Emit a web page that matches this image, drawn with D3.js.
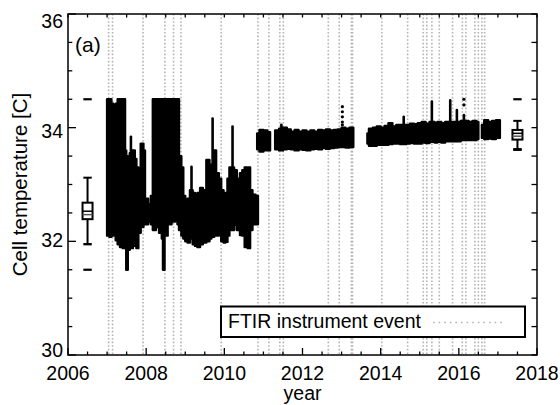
<!DOCTYPE html>
<html>
<head>
<meta charset="utf-8">
<script src="https://cdn.jsdelivr.net/npm/d3@7"></script>
<style>
  body { margin: 0; background: #fff; }
  svg { display: block; }
  text { font-family: "Liberation Sans", Arial, Helvetica, sans-serif; fill: #000; }
</style>
</head>
<body>
<svg id="chart" width="560" height="405"></svg>
<script>
// ---- Cell temperature record (envelope of the measurements, decimal year) ----
// null entries separate the continuous measurement periods
const obsYear = [
  2007.00, 2007.06, 2007.11, 2007.16, 2007.22, 2007.27, 2007.33, 2007.40, 2007.46, 2007.49,
  2007.53, 2007.58, 2007.63, 2007.66, 2007.71, 2007.75, 2007.80, 2007.86, 2007.93, 2007.97,
  2008.05, 2008.12, 2008.17, 2008.25, 2008.33, 2008.40, 2008.43, 2008.47, 2008.55, 2008.65,
  2008.74, 2008.80, 2008.84, 2008.90, 2008.95, 2009.00, 2009.06, 2009.12, 2009.19, 2009.25,
  2009.31, 2009.38, 2009.45, 2009.54, 2009.62, 2009.67, 2009.74, 2009.79, 2009.86, 2009.92,
  2009.98, 2010.03, 2010.08, 2010.13, 2010.25, 2010.32, 2010.40, 2010.46, 2010.52, 2010.60,
  2010.66, 2010.72, 2010.80, 2010.86, null,
  2010.84, 2010.90, 2011.00, 2011.10, 2011.17, null,
  2011.30, 2011.40, 2011.50, 2011.60, 2011.70, 2011.80, 2011.90, 2012.00, 2012.10, 2012.20,
  2012.30, 2012.40, 2012.50, 2012.60, 2012.70, 2012.80, 2012.90, 2013.00, 2013.10, 2013.20,
  2013.30, null,
  2013.66, 2013.70, 2013.80, 2013.90, 2014.00, 2014.10, 2014.20, 2014.30, 2014.40, 2014.50,
  2014.65, 2014.75, 2014.85, 2014.95, 2015.05, 2015.15, 2015.25, 2015.38, 2015.45, 2015.55,
  2015.65, 2015.85, 2016.05, 2016.25, 2016.35, 2016.45, 2016.50, null,
  2016.59, 2016.65, 2016.75, 2016.85, 2016.95, 2017.05
];
const obsHigh = [
  34.50, 34.50, 34.42, 34.38, 34.42, 34.50, 34.50, 34.50, 33.60, 33.50,
  33.45, 33.55, 33.60, 33.60, 33.45, 33.30, 33.25, 33.72, 33.60, 32.75,
  32.65, 32.80, 34.50, 34.50, 34.50, 34.50, 34.50, 34.50, 34.50, 34.50,
  34.50, 34.50, 33.50, 33.30, 32.80, 32.70, 32.75, 32.90, 32.85, 32.80,
  32.85, 32.94, 32.90, 33.43, 33.35, 33.30, 33.60, 33.20, 33.10, 32.90,
  32.80, 32.85, 33.10, 33.30, 33.25, 33.10, 33.20, 33.25, 33.30, 33.30,
  32.90, 32.82, 32.80, 32.75, null,
  33.90, 33.96, 33.95, 33.92, 33.88, null,
  33.95, 33.98, 34.00, 33.97, 33.93, 33.96, 33.93, 33.95, 33.93, 33.95,
  33.93, 33.96, 33.95, 33.97, 33.95, 33.96, 33.97, 34.00, 33.98, 34.00,
  34.00, null,
  33.90, 33.98, 34.00, 34.02, 34.00, 34.03, 34.08, 34.02, 34.05, 34.05,
  34.05, 34.07, 34.06, 34.08, 34.10, 34.07, 34.10, 34.08, 34.10, 34.08,
  34.10, 34.10, 34.12, 34.10, 34.12, 34.10, 34.08, null,
  34.05, 34.13, 34.10, 34.12, 34.13, 34.10
];
const obsLow = [
  32.10, 32.08, 32.10, 32.12, 32.02, 31.95, 31.90, 31.88, 32.05, 31.50,
  31.85, 31.90, 31.88, 31.95, 31.92, 31.88, 32.15, 32.25, 32.30, 32.30,
  32.35, 32.30, 32.20, 32.25, 32.15, 32.05, 31.50, 32.10, 32.30, 32.35,
  32.40, 32.30, 32.20, 32.10, 32.05, 32.00, 31.98, 32.05, 31.95, 31.92,
  31.90, 31.95, 31.98, 32.00, 32.05, 32.08, 32.10, 32.10, 32.15, 32.00,
  31.98, 31.99, 32.10, 32.20, 32.29, 32.20, 32.11, 32.10, 31.90, 31.88,
  32.20, 32.30, 32.30, 32.30, null,
  33.62, 33.58, 33.60, 33.60, 33.62, null,
  33.62, 33.60, 33.62, 33.63, 33.62, 33.60, 33.62, 33.61, 33.60, 33.62,
  33.63, 33.62, 33.64, 33.63, 33.64, 33.65, 33.66, 33.66, 33.65, 33.66,
  33.68, null,
  33.72, 33.68, 33.68, 33.70, 33.70, 33.70, 33.71, 33.72, 33.72, 33.71,
  33.72, 33.73, 33.72, 33.72, 33.74, 33.73, 33.75, 33.74, 33.75, 33.74,
  33.76, 33.76, 33.78, 33.78, 33.78, 33.80, 33.80, null,
  33.82, 33.80, 33.81, 33.80, 33.82, 33.85
];

// narrow excursions above the envelope
const spikeYear = [2007.61, 2009.16, 2009.70, 2010.21, 2011.46, 2014.59, 2015.31, 2015.78, 2015.95, 2016.13];
const spikeLow  = [33.50,   32.90,   33.30,   33.30,   33.95,   34.05,   34.10,   34.10,   34.10,   34.10];
const spikeHigh = [33.84,   33.31,   34.16,   34.02,   34.05,   34.19,   34.46,   34.48,   34.31,   34.22];

// isolated readings
const dotYear = [2013.02, 2013.02, 2013.02, 2013.02, 2013.02, 2016.13, 2016.13];
const dotTemp = [34.05,   34.10,   34.19,   34.28,   34.37,   34.40,   34.50];

// FTIR instrument events
const eventYears = [
  2007.04, 2007.14, 2007.92, 2008.48, 2008.70, 2008.89, 2009.92, 2010.86, 2011.14, 2011.42,
  2011.51, 2012.66, 2012.94, 2013.25, 2013.28, 2014.03, 2014.69, 2015.09, 2015.18, 2015.31,
  2015.50, 2015.84, 2016.09, 2016.18, 2016.41, 2016.50, 2016.59, 2016.66
];

// summary statistics of the two periods (before / after the 2010 change)
const boxYear    = [2006.5, 2017.5];
const boxMin     = [31.50, 33.61];
const boxLoWhisk = [31.95, 33.62];
const boxQ1      = [32.39, 33.79];
const boxMean    = [32.47, 33.85];
const boxMedian  = [32.53, 33.90];
const boxQ3      = [32.68, 33.96];
const boxHiWhisk = [33.12, 34.12];
const boxMax     = [34.50, 34.50];

const xTickValues = [2006, 2008, 2010, 2012, 2014, 2016, 2018];
const yTickValues = [30, 32, 34, 36];
const xLabel = "year";
const yLabel = "Cell temperature [C]";
const panelLabel = "(a)";
const legendLabel = "FTIR instrument event";

(function draw() {
  // ---- layout ----
  const pL = 68, pR = 537, pT = 14, pB = 355;
  const svg = d3.select("#chart");
  const x = d3.scaleLinear().domain([2006, 2018]).range([pL, pR]);
  const y = d3.scaleLinear().domain([30, 36]).range([pB, pT]);
  // tick labels sit inside the axis span (top label below the frame edge)
  const yLab = d3.scaleLinear().domain([30, 36]).range([357.3, 27.8]);

  // event lines
  svg.append("g").selectAll("line").data(eventYears).join("line")
    .attr("x1", d => x(d)).attr("x2", d => x(d))
    .attr("y1", pT).attr("y2", pB)
    .attr("stroke", "#b4b4b4").attr("stroke-width", 1.6)
    .attr("stroke-dasharray", "1.6,2");

  // measurement envelope
  const obs = obsYear.map((t, i) => ({ t, hi: obsHigh[i], lo: obsLow[i] }));
  const area = d3.area()
    .defined(d => d.hi != null)
    .x(d => x(d.t)).y0(d => y(d.lo)).y1(d => y(d.hi))
    .curve(d3.curveStepAfter);
  svg.append("path").datum(obs)
    .attr("d", area)
    .attr("fill", "#000").attr("stroke", "#000")
    .attr("stroke-width", 2.4).attr("stroke-linejoin", "round");

  svg.append("g").selectAll("line").data(spikeYear).join("line")
    .attr("x1", d => x(d)).attr("x2", d => x(d))
    .attr("y1", (d, i) => y(spikeLow[i])).attr("y2", (d, i) => y(spikeHigh[i]))
    .attr("stroke", "#000").attr("stroke-width", 2.6).attr("stroke-linecap", "round");

  svg.append("g").selectAll("circle").data(dotYear).join("circle")
    .attr("cx", d => x(d)).attr("cy", (d, i) => y(dotTemp[i]))
    .attr("r", 1.6).attr("fill", "#000");

  // box plots
  const bw = 5, cw = 4.2;
  const gb = svg.append("g").attr("stroke", "#000").attr("fill", "none");
  boxYear.forEach((b, i) => {
    const cx = x(b);
    const hline = (v, half, w) => gb.append("line")
      .attr("x1", cx - half).attr("x2", cx + half).attr("y1", y(v)).attr("y2", y(v)).attr("stroke-width", w);
    gb.append("line").attr("x1", cx).attr("x2", cx).attr("y1", y(boxHiWhisk[i])).attr("y2", y(boxQ3[i])).attr("stroke-width", 2);
    gb.append("line").attr("x1", cx).attr("x2", cx).attr("y1", y(boxQ1[i])).attr("y2", y(boxLoWhisk[i])).attr("stroke-width", 2);
    hline(boxHiWhisk[i], cw, 2);
    hline(boxLoWhisk[i], cw, 2.4);
    gb.append("rect").attr("x", cx - bw).attr("width", 2 * bw)
      .attr("y", y(boxQ3[i])).attr("height", y(boxQ1[i]) - y(boxQ3[i]))
      .attr("stroke-width", 2).attr("fill", "#fff");
    hline(boxMedian[i], bw, 1.5);
    hline(boxMean[i], bw, 1.5).attr("stroke", "#555");
    hline(boxMin[i], cw, 2.2);
    hline(boxMax[i], cw, 2.2);
  });

  // frame and ticks
  const ga = svg.append("g").attr("stroke", "#000");
  ga.append("rect").attr("x", pL).attr("y", pT).attr("width", pR - pL).attr("height", pB - pT)
    .attr("fill", "none").attr("stroke-width", 1.5);
  const xMinor = d3.range(2006, 2018.01, 0.5);
  const yMinor = d3.range(30, 36.01, 0.5);
  xMinor.forEach(v => {
    const major = xTickValues.includes(v);
    ga.append("line").attr("x1", x(v)).attr("x2", x(v)).attr("y1", pB).attr("y2", pB - (major ? 7 : 3.5)).attr("stroke-width", 1.3);
    ga.append("line").attr("x1", x(v)).attr("x2", x(v)).attr("y1", pT).attr("y2", pT + 3.5).attr("stroke-width", 1.3);
  });
  yMinor.forEach(v => {
    const major = yTickValues.includes(v);
    ga.append("line").attr("x1", pL).attr("x2", pL + (major ? 8 : 4.3)).attr("y1", y(v)).attr("y2", y(v)).attr("stroke-width", 1.3);
    ga.append("line").attr("x1", pR).attr("x2", pR - 5.5).attr("y1", y(v)).attr("y2", y(v)).attr("stroke-width", 1.3);
  });

  // tick labels
  svg.append("g").selectAll("text").data(xTickValues).join("text")
    .attr("x", d => x(d)).attr("y", 380).attr("text-anchor", "middle")
    .attr("font-size", 19.5).text(d => d);
  svg.append("g").selectAll("text").data(yTickValues).join("text")
    .attr("x", 63).attr("y", d => yLab(d)).attr("text-anchor", "end")
    .attr("font-size", 19.5).text(d => d);

  // axis titles
  svg.append("text").attr("x", (pL + pR) / 2).attr("y", 400).attr("text-anchor", "middle")
    .attr("font-size", 19.5).text(xLabel);
  svg.append("text").attr("transform", `translate(27,${(pT + pB) / 2}) rotate(-90)`)
    .attr("text-anchor", "middle").attr("font-size", 20.5).text(yLabel);
  svg.append("text").attr("x", 75).attr("y", 52).attr("font-size", 21).text(panelLabel);

  // legend
  const lg = svg.append("g");
  lg.append("rect").attr("x", 221).attr("y", 306.5).attr("width", 304).attr("height", 30.5)
    .attr("fill", "#fff").attr("stroke", "#000").attr("stroke-width", 2);
  lg.append("text").attr("x", 228).attr("y", 327.7).attr("font-size", 19.5).text(legendLabel);
  lg.append("line").attr("x1", 433).attr("x2", 505).attr("y1", 322.5).attr("y2", 322.5)
    .attr("stroke", "#b4b4b4").attr("stroke-width", 1.6).attr("stroke-dasharray", "1.6,4");
})();
</script>
</body>
</html>
